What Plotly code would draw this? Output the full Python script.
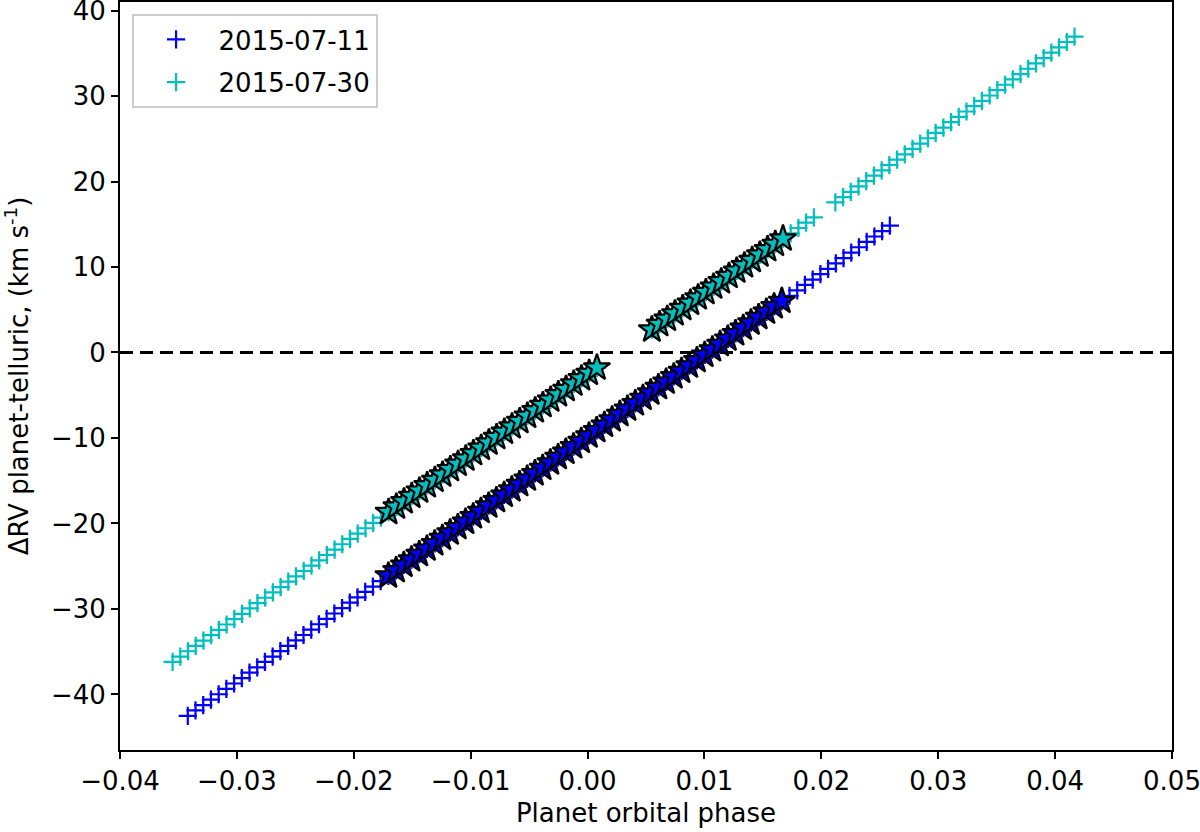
import plotly.graph_objects as go

# ---- data: 2015-07-11 (blue) ----
phase_0711 = [-0.0342, -0.03354, -0.03288, -0.03222, -0.03156, -0.0309, -0.03024, -0.02958, -0.02892, -0.02826,
              -0.0276, -0.02694, -0.02628, -0.02562, -0.02496, -0.0243, -0.02364, -0.02298, -0.02232, -0.02166,
              -0.021, -0.02034, -0.01968, -0.01902, -0.01836, -0.0177, -0.01704, -0.01638, -0.01572, -0.01506,
              -0.0144, -0.01374, -0.01308, -0.01242, -0.01176, -0.0111, -0.01044, -0.00978, -0.00912, -0.00846,
              -0.0078, -0.00714, -0.00648, -0.00582, -0.00516, -0.0045, -0.00384, -0.00318, -0.00252, -0.00186,
              -0.0012, -0.00054, 0.00012, 0.00078, 0.00144, 0.0021, 0.00276, 0.00342, 0.00408, 0.00474,
              0.0054, 0.00606, 0.00672, 0.00738, 0.00804, 0.0087, 0.00936, 0.01002, 0.01068, 0.01134,
              0.012, 0.01266, 0.01332, 0.01398, 0.01464, 0.0153, 0.01596, 0.01662, 0.01728, 0.01794,
              0.0186, 0.01926, 0.01992, 0.02058, 0.02124, 0.0219, 0.02256, 0.02322, 0.02388, 0.02454,
              0.0252, 0.02586]
drv_0711 = [-42.5, -41.87, -41.24, -40.61, -39.98, -39.35, -38.72, -38.09, -37.46, -36.83,
            -36.2, -35.57, -34.94, -34.31, -33.68, -33.05, -32.42, -31.79, -31.16, -30.53,
            -29.9, -29.27, -28.64, -28.01, -27.38, -26.75, -26.12, -25.49, -24.86, -24.23,
            -23.6, -22.97, -22.34, -21.71, -21.08, -20.45, -19.82, -19.19, -18.56, -17.93,
            -17.3, -16.67, -16.04, -15.41, -14.78, -14.15, -13.52, -12.89, -12.26, -11.63,
            -11.0, -10.37, -9.74, -9.11, -8.48, -7.85, -7.22, -6.59, -5.96, -5.33,
            -4.7, -4.07, -3.44, -2.81, -2.18, -1.55, -0.92, -0.29, 0.34, 0.97,
            1.6, 2.23, 2.86, 3.49, 4.12, 4.75, 5.38, 6.01, 6.64, 7.27,
            7.9, 8.53, 9.16, 9.79, 10.42, 11.05, 11.68, 12.31, 12.94, 13.57,
            14.2, 14.83]

# ---- data: 2015-07-30 (cyan) ----
phase_0730 = [-0.0355, -0.03484, -0.03418, -0.03352, -0.03286, -0.0322, -0.03154, -0.03088, -0.03022, -0.02956,
              -0.0289, -0.02824, -0.02758, -0.02692, -0.02626, -0.0256, -0.02494, -0.02428, -0.02362, -0.02296,
              -0.0223, -0.02164, -0.02098, -0.02032, -0.01966, -0.019, -0.01834, -0.01768, -0.01702, -0.01636,
              -0.0157, -0.01504, -0.01438, -0.01372, -0.01306, -0.0124, -0.01174, -0.01108, -0.01042, -0.00976,
              -0.0091, -0.00844, -0.00778, -0.00712, -0.00646, -0.0058, -0.00514, -0.00448, -0.00382, -0.00316,
              -0.0025, -0.00184, -0.00118, -0.00052, 0.00014, 0.0008,
              0.0055, 0.00616, 0.00682, 0.00748, 0.00814, 0.0088, 0.00946, 0.01012, 0.01078, 0.01144,
              0.0121, 0.01276, 0.01342, 0.01408, 0.01474, 0.0154, 0.01606, 0.01672, 0.01738, 0.01804,
              0.0187, 0.01936,
              0.0212, 0.02186, 0.02252, 0.02318, 0.02384, 0.0245, 0.02516, 0.02582, 0.02648, 0.02714,
              0.0278, 0.02846, 0.02912, 0.02978, 0.03044, 0.0311, 0.03176, 0.03242, 0.03308, 0.03374,
              0.0344, 0.03506, 0.03572, 0.03638, 0.03704, 0.0377, 0.03836, 0.03902, 0.03968, 0.04034,
              0.041, 0.04166]
drv_0730 = [-36.2, -35.57, -34.95, -34.32, -33.70, -33.07, -32.45, -31.82, -31.19, -30.57,
            -29.94, -29.32, -28.69, -28.07, -27.44, -26.81, -26.19, -25.56, -24.94, -24.31,
            -23.69, -23.06, -22.43, -21.81, -21.18, -20.56, -19.93, -19.31, -18.68, -18.05,
            -17.43, -16.80, -16.18, -15.55, -14.93, -14.30, -13.67, -13.05, -12.42, -11.80,
            -11.17, -10.55, -9.92, -9.29, -8.67, -8.04, -7.42, -6.79, -6.17, -5.54,
            -4.91, -4.29, -3.66, -3.04, -2.41, -1.79,
            2.67, 3.30, 3.92, 4.55, 5.17, 5.80, 6.42, 7.05, 7.68, 8.30,
            8.93, 9.55, 10.18, 10.80, 11.43, 12.06, 12.68, 13.31, 13.93, 14.56,
            15.18, 15.81,
            17.55, 18.18, 18.80, 19.43, 20.05, 20.68, 21.30, 21.93, 22.56, 23.18,
            23.81, 24.43, 25.06, 25.68, 26.31, 26.94, 27.56, 28.19, 28.81, 29.44,
            30.06, 30.69, 31.32, 31.94, 32.57, 33.19, 33.82, 34.44, 35.07, 35.70,
            36.32, 36.95]

# in-transit window (star-marked exposures)
transit_start = -0.0173
transit_end = 0.0169

labels = ["2015-07-11", "2015-07-30"]
colors = ["#0000ff", "#00bfbf"]
x_ticks = [-0.04, -0.03, -0.02, -0.01, 0.00, 0.01, 0.02, 0.03, 0.04, 0.05]
y_ticks = [-40, -30, -20, -10, 0, 10, 20, 30, 40]

series = [(phase_0711, drv_0711), (phase_0730, drv_0730)]

FONT = "DejaVu Sans"
FS = 26

fig = go.Figure()

# zero line
fig.add_shape(type="line", xref="paper", yref="y", x0=0, x1=1, y0=0, y1=0,
              line=dict(color="black", width=3, dash="13px,7px"), layer="below")

for i, ((px, py), lab, col) in enumerate(zip(series, labels, colors)):
    fig.add_trace(go.Scatter(x=px, y=py, mode="markers", name=lab, legendgroup=f"g{i}",
                             marker=dict(symbol="cross-thin", size=13, color=col,
                                         line=dict(color=col, width=2.2))))

for (px, py), lab, col in zip(series, labels, colors):
    sx = [a for a, b in zip(px, py) if transit_start <= a <= transit_end]
    sy = [b for a, b in zip(px, py) if transit_start <= a <= transit_end]
    fig.add_trace(go.Scatter(x=sx, y=sy, mode="markers", showlegend=False,
                             marker=dict(symbol="star", size=20, color=col,
                                         line=dict(color="black", width=2.2))))

axis_common = dict(showline=True, linecolor="black", linewidth=2, mirror=True,
                   ticks="outside", ticklen=7, tickwidth=2, tickcolor="black",
                   showgrid=False, zeroline=False, automargin=False,
                   ticklabeloverflow="allow",
                   tickfont=dict(family=FONT, size=FS, color="black"))

fig.update_xaxes(range=[-0.04, 0.05], tickvals=x_ticks, tickformat=".2f",
                 title=dict(text="Planet orbital phase", standoff=9,
                            font=dict(family=FONT, size=FS, color="black")),
                 **axis_common)
fig.update_yaxes(range=[-46.5, 41], tickvals=y_ticks,
                 title=dict(text="ΔRV planet-telluric, (km s<sup>-1</sup>)", standoff=19,
                            font=dict(family=FONT, size=FS, color="black")),
                 **axis_common)

fig.update_layout(width=1200, height=832,
                  margin=dict(l=120, r=28, t=2, b=82, autoexpand=False),
                  plot_bgcolor="white", paper_bgcolor="white",
                  font=dict(family=FONT, size=FS, color="black"),
                  legend=dict(x=0.011, y=0.984, xanchor="left", yanchor="top",
                              bgcolor="white", bordercolor="#cccccc", borderwidth=2,
                              font=dict(family=FONT, size=FS, color="black"),
                              itemwidth=75, tracegroupgap=6))

fig.write_html("out.html", config={"displayModeBar": False},
               post_script="document.body.style.margin='0px';document.body.style.overflow='hidden';")
